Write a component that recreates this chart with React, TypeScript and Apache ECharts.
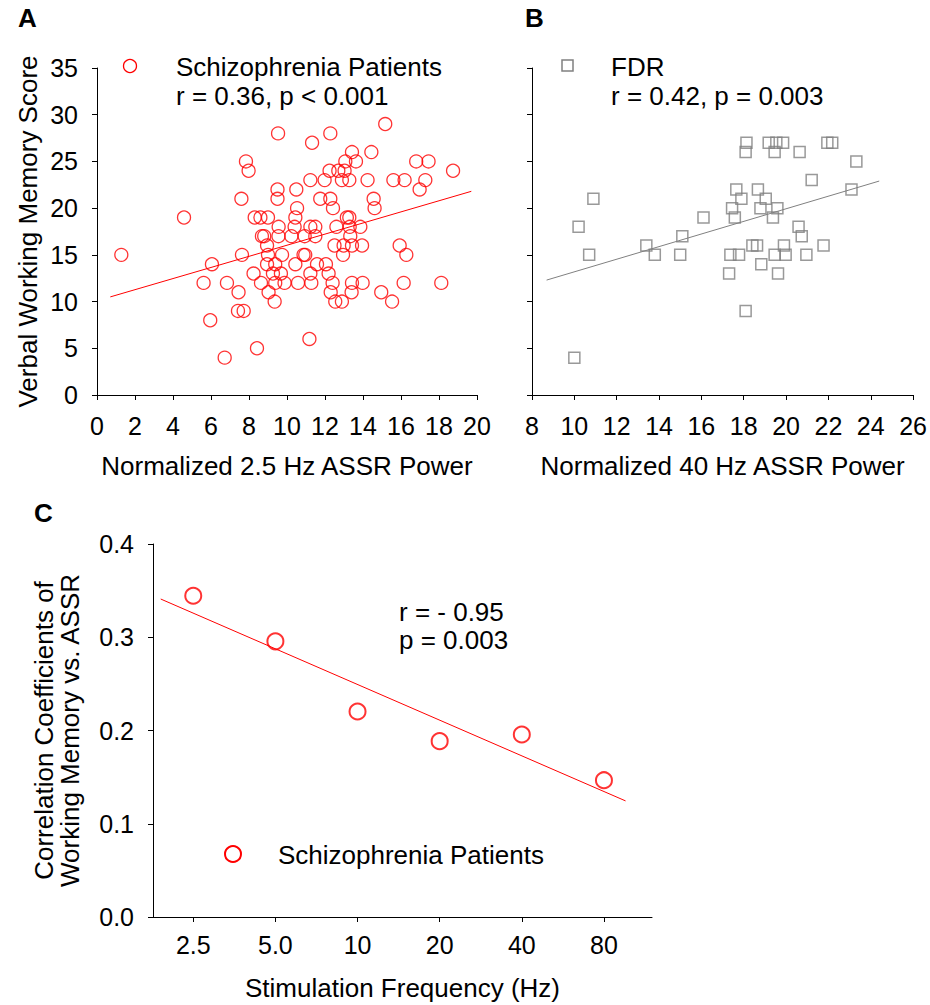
import React, { useEffect, useRef } from "react";
import * as echarts from "echarts";

const FONT = '"Liberation Sans", Arial, Helvetica, sans-serif';

// Panel A: schizophrenia patients — normalized 2.5 Hz ASSR power vs verbal working memory score
const patientPoints: [number, number][] = [
  [6.72, 4], [8.42, 5], [11.18, 6], [5.96, 8], [7.42, 9], [7.72, 9],
  [9.35, 10], [12.54, 10], [12.89, 10], [15.53, 10],
  [7.45, 11], [9.03, 11], [12.3, 11], [13.4, 11], [14.96, 11],
  [5.61, 12], [6.84, 12], [8.63, 12], [9.38, 12], [9.87, 12], [10.58, 12], [11.28, 12], [12.4, 12], [13.42, 12], [13.98, 12], [16.14, 12], [18.12, 12],
  [8.24, 13], [9.26, 13], [9.68, 13], [11.23, 13], [12.19, 13],
  [6.05, 14], [8.95, 14], [9.38, 14], [10.44, 14], [11.58, 14], [12.05, 14],
  [1.28, 15], [7.63, 15], [9.0, 15], [9.74, 15], [10.87, 15], [10.96, 15], [12.95, 15], [16.28, 15],
  [8.95, 16], [12.5, 16], [12.98, 16], [13.42, 16], [13.95, 16], [15.93, 16],
  [8.68, 17], [8.8, 17], [9.55, 17], [10.23, 17], [10.93, 17], [11.49, 17], [13.33, 17],
  [9.56, 18], [10.4, 18], [11.23, 18], [11.49, 18], [12.6, 18], [13.3, 18], [13.86, 18],
  [4.58, 19], [8.3, 19], [8.6, 19], [9.0, 19], [10.44, 19], [13.15, 19], [13.28, 19],
  [10.53, 20], [12.42, 20], [14.61, 20],
  [7.6, 21], [9.5, 21], [11.75, 21], [12.28, 21], [14.56, 21],
  [9.5, 22], [10.49, 22], [16.98, 22],
  [11.23, 23], [11.98, 23], [12.89, 23], [13.28, 23], [14.24, 23], [15.6, 23], [16.19, 23], [17.28, 23],
  [7.98, 24], [12.24, 24], [12.7, 24], [13.03, 24], [18.74, 24],
  [7.84, 25], [13.07, 25], [13.63, 25], [16.8, 25], [17.45, 25],
  [13.42, 26], [14.44, 26],
  [11.32, 27],
  [9.53, 28], [12.28, 28],
  [15.17, 29],
];
const patientTrend: [number, number][] = [[0.7, 10.5], [19.7, 21.8]];

// Panel B: first-degree relatives — normalized 40 Hz ASSR power vs verbal working memory score
const fdrPoints: [number, number][] = [
  [10.0, 4], [18.09, 9], [17.31, 13], [19.62, 13], [18.83, 14],
  [10.7, 15], [13.8, 15], [15.0, 15], [17.37, 15], [17.78, 15], [19.46, 15], [19.98, 15], [20.96, 15],
  [13.4, 16], [18.41, 16], [18.63, 16], [19.9, 16], [21.77, 16],
  [15.1, 17], [20.74, 17],
  [10.2, 18], [20.59, 18],
  [16.1, 19], [17.58, 19], [19.38, 19],
  [17.45, 20], [18.79, 20], [19.59, 20],
  [10.9, 21], [17.89, 21], [19.04, 21],
  [17.65, 22], [18.67, 22], [23.09, 22],
  [21.21, 23],
  [23.32, 25],
  [18.09, 26], [19.46, 26], [20.64, 26],
  [18.13, 27], [19.18, 27], [19.54, 27], [19.86, 27], [21.95, 27], [22.18, 27],
];
const fdrTrend: [number, number][] = [[8.69, 12.3], [24.4, 22.9]];

// Panel C: correlation coefficient per stimulation frequency
const stimFreqs = [2.5, 5, 10, 20, 40, 80];
const stimFreqLabels = ["2.5", "5.0", "10", "20", "40", "80"];
const corrCoefs = [0.3445, 0.2956, 0.2204, 0.1886, 0.1957, 0.1467];
const corrTrendFreqs = [1.9, 96];
const corrTrendValues = [0.341, 0.1245];
const freqAxisRange = [1.78, 120];

const labelA = { main: "Schizophrenia Patients", stat: "r = 0.36, p < 0.001" };
const labelB = { main: "FDR", stat: "r = 0.42, p = 0.003" };
const labelC = { main: "Schizophrenia Patients", r: "r = - 0.95", p: "p = 0.003" };

const log2 = (v: number) => Math.log(v) / Math.LN2;

const axisBase = {
  axisLine: { lineStyle: { color: "#000", width: 1 } },
  axisTick: { inside: false, length: 5, lineStyle: { color: "#000", width: 1 } },
  splitLine: { show: false },
  nameTextStyle: { color: "#000", fontSize: 26, fontFamily: FONT },
};
const tickFont = { color: "#000", fontSize: 25, fontFamily: FONT };

const txt = (x: number, y: number, text: string, extra: any = {}) => ({
  type: "text",
  x,
  y,
  silent: true,
  style: {
    text,
    fill: "#000",
    fontSize: 26,
    fontFamily: FONT,
    verticalAlign: "middle",
    align: "left",
    ...extra,
  },
});

export default function App() {
  const ref = useRef<HTMLDivElement>(null);

  useEffect(() => {
    if (!ref.current) return;
    const chart = echarts.init(ref.current, null, { renderer: "svg" });
    const freqTickValues = stimFreqs.map(log2);

    const option: any = {
      animation: false,
      backgroundColor: "#fff",
      grid: [
        { left: 97, top: 68, width: 380, height: 327 },
        { left: 532, top: 68, width: 382, height: 327 },
        { left: 153, top: 544, width: 499, height: 373 },
      ],
      xAxis: [
        {
          ...axisBase,
          gridIndex: 0,
          type: "value",
          min: 0,
          max: 20,
          interval: 2,
          axisLabel: { ...tickFont, margin: 18 },
          name: "Normalized 2.5 Hz ASSR Power",
          nameLocation: "middle",
          nameGap: 58,
        },
        {
          ...axisBase,
          gridIndex: 1,
          type: "value",
          min: 8,
          max: 26,
          interval: 2,
          axisLabel: { ...tickFont, margin: 18 },
          name: "Normalized 40 Hz ASSR Power",
          nameLocation: "middle",
          nameGap: 58,
        },
        {
          ...axisBase,
          gridIndex: 2,
          type: "value",
          min: log2(freqAxisRange[0]),
          max: log2(freqAxisRange[1]),
          axisTick: { ...axisBase.axisTick, customValues: freqTickValues },
          axisLabel: {
            ...tickFont,
            margin: 15,
            customValues: freqTickValues,
            formatter: (v: number) => {
              const i = freqTickValues.findIndex((t) => Math.abs(t - v) < 1e-6);
              return i >= 0 ? stimFreqLabels[i] : "";
            },
          },
          name: "Stimulation Frequency (Hz)",
          nameLocation: "middle",
          nameGap: 58,
        },
      ],
      yAxis: [
        {
          ...axisBase,
          gridIndex: 0,
          type: "value",
          min: 0,
          max: 35,
          interval: 5,
          axisLabel: { ...tickFont, margin: 19 },
          name: "Verbal Working Memory Score",
          nameLocation: "middle",
          nameGap: 56,
        },
        {
          ...axisBase,
          gridIndex: 1,
          type: "value",
          min: 0,
          max: 35,
          interval: 5,
          axisLabel: { show: false },
        },
        {
          ...axisBase,
          gridIndex: 2,
          type: "value",
          min: 0,
          max: 0.4,
          interval: 0.1,
          axisLabel: { ...tickFont, margin: 19, formatter: (v: number) => v.toFixed(1) },
          name: "Correlation Coefficients of\nWorking Memory vs. ASSR",
          nameLocation: "middle",
          nameGap: 70,
          nameTextStyle: { ...axisBase.nameTextStyle, lineHeight: 26 },
        },
      ],
      series: [
        {
          type: "line",
          xAxisIndex: 0,
          yAxisIndex: 0,
          data: patientTrend,
          symbol: "none",
          silent: true,
          lineStyle: { color: "#ff0000", width: 1 },
        },
        {
          type: "scatter",
          xAxisIndex: 0,
          yAxisIndex: 0,
          data: patientPoints,
          symbol: "circle",
          symbolSize: 13,
          silent: true,
          itemStyle: { color: "rgba(0,0,0,0)", borderColor: "#ff0000", borderWidth: 1.3 },
        },
        {
          type: "line",
          xAxisIndex: 1,
          yAxisIndex: 1,
          data: fdrTrend,
          symbol: "none",
          silent: true,
          lineStyle: { color: "#808080", width: 1 },
        },
        {
          type: "scatter",
          xAxisIndex: 1,
          yAxisIndex: 1,
          data: fdrPoints,
          symbol: "rect",
          symbolSize: 11,
          silent: true,
          itemStyle: { color: "rgba(0,0,0,0)", borderColor: "#808080", borderWidth: 1.5 },
        },
        {
          type: "line",
          xAxisIndex: 2,
          yAxisIndex: 2,
          data: corrTrendFreqs.map((f, i) => [log2(f), corrTrendValues[i]]),
          symbol: "none",
          silent: true,
          lineStyle: { color: "#ff0000", width: 1 },
        },
        {
          type: "scatter",
          xAxisIndex: 2,
          yAxisIndex: 2,
          data: stimFreqs.map((f, i) => [log2(f), corrCoefs[i]]),
          symbol: "circle",
          symbolSize: 16,
          silent: true,
          itemStyle: { color: "rgba(0,0,0,0)", borderColor: "#ff0000", borderWidth: 2 },
        },
      ],
      graphic: [
        txt(18, 18, "A", { fontWeight: "bold" }),
        txt(525, 18, "B", { fontWeight: "bold" }),
        txt(34, 513, "C", { fontWeight: "bold" }),
        {
          type: "circle",
          silent: true,
          shape: { cx: 130, cy: 66, r: 6.5 },
          style: { fill: "none", stroke: "#ff0000", lineWidth: 1.3 },
        },
        txt(176, 67, labelA.main),
        txt(176, 96, labelA.stat),
        {
          type: "rect",
          silent: true,
          shape: { x: 562, y: 60, width: 11, height: 11 },
          style: { fill: "none", stroke: "#808080", lineWidth: 1.5 },
        },
        txt(611, 67, labelB.main),
        txt(611, 96, labelB.stat),
        txt(399, 612, labelC.r),
        txt(399, 640, labelC.p),
        {
          type: "circle",
          silent: true,
          shape: { cx: 233, cy: 854, r: 8 },
          style: { fill: "none", stroke: "#ff0000", lineWidth: 2 },
        },
        txt(278, 855, labelC.main),
      ],
    };

    chart.setOption(option);
    return () => chart.dispose();
  }, []);

  return (
    <div
      ref={ref}
      style={{ position: "fixed", left: 0, top: 0, width: 930, height: 1005, background: "#fff" }}
    />
  );
}
